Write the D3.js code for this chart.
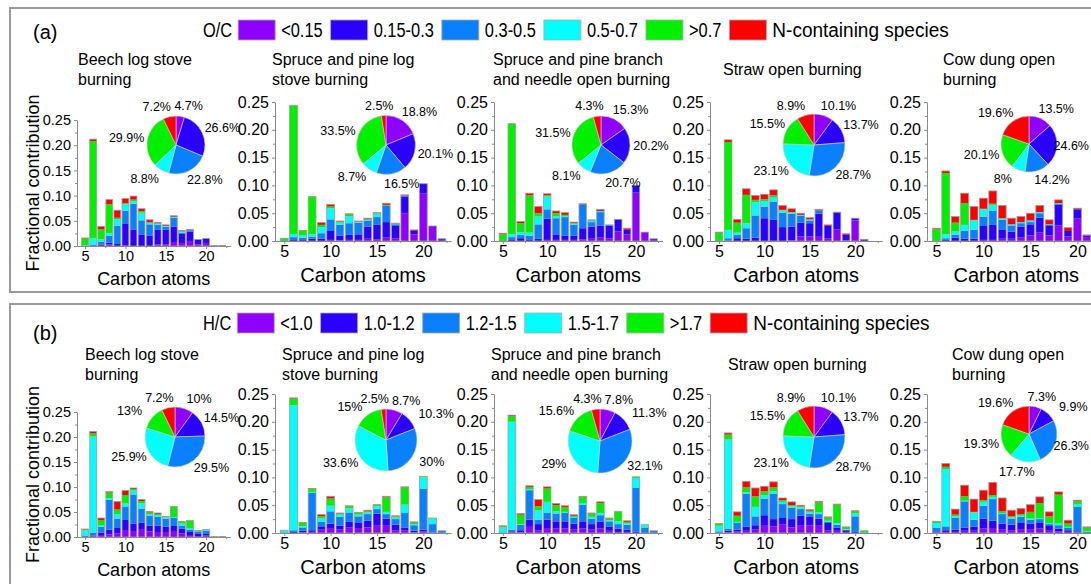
<!DOCTYPE html>
<html>
<head>
<meta charset="utf-8">
<script src="https://cdn.jsdelivr.net/npm/d3@7"></script>
<style>
  body { margin: 0; background: #fff; }
  text { font-family: "Liberation Sans", Arial, sans-serif; fill: #000; }
  .axis .domain, .axis line { stroke: #8a8a8a; }
</style>
</head>
<body>
<svg id="chart" width="1091" height="584"></svg>
<script>
// ---- data ----
const carbons = d3.range(5, 23);
const ocCategories = ["<0.15", "0.15-0.3", "0.3-0.5", "0.5-0.7", ">0.7", "N-containing species"];
const hcCategories = ["<1.0", "1.0-1.2", "1.2-1.5", "1.5-1.7", ">1.7", "N-containing species"];
const colors = ["#9000ff", "#2b00ff", "#0a80ff", "#00ffff", "#00f000", "#ff0000"];
const sources = [
  ["Beech log stove", "burning"],
  ["Spruce and pine log", "stove burning"],
  ["Spruce and pine branch", "and needle open burning"],
  ["Straw open burning"],
  ["Cow dung open", "burning"]
];
const yTicks = [0, 0.05, 0.10, 0.15, 0.20, 0.25];
const xTicks = [5, 10, 15, 20];

// rows = carbon 5..22, columns = purple, blue, mid blue, cyan, green, N-containing
const ocBeech = [
  [0, 0, 0.001, 0.001, 0.013, 0.001], [0, 0, 0.003, 0.012, 0.193, 0.004],
  [0, 0.003, 0.005, 0.005, 0.02, 0.006], [0.003, 0.004, 0.013, 0.005, 0.058, 0.009],
  [0, 0.004, 0.036, 0.013, 0.003, 0.015], [0.002, 0.043, 0.025, 0.013, 0.002, 0.009],
  [0, 0.033, 0.051, 0.005, 0.003, 0.007], [0, 0.023, 0.028, 0.015, 0.003, 0.005],
  [0, 0.02, 0.023, 0.003, 0.001, 0.005], [0.003, 0.029, 0.01, 0.002, 0.001, 0.002],
  [0.003, 0.029, 0.006, 0.002, 0, 0.002], [0.008, 0.03, 0.018, 0.002, 0, 0.002],
  [0.006, 0.018, 0.002, 0.003, 0, 0.002], [0.01, 0.018, 0.003, 0, 0, 0.002],
  [0.003, 0.01, 0, 0, 0, 0], [0.006, 0.009, 0, 0, 0, 0],
  [0.001, 0, 0, 0, 0, 0], [0.001, 0, 0, 0, 0, 0]
];
const ocSpruceLog = [
  [0, 0, 0, 0, 0.005, 0], [0, 0.003, 0.004, 0.005, 0.232, 0],
  [0, 0.003, 0.003, 0.004, 0.008, 0.001], [0, 0.004, 0.004, 0.004, 0.068, 0],
  [0, 0.004, 0.01, 0.011, 0.004, 0.004], [0.002, 0.016, 0.021, 0.02, 0.003, 0.004],
  [0.001, 0.009, 0.019, 0.004, 0.002, 0.001], [0.002, 0.009, 0.021, 0.013, 0.003, 0.001],
  [0.002, 0.01, 0.021, 0.002, 0, 0.001], [0.004, 0.022, 0.01, 0.002, 0.001, 0.002],
  [0.003, 0.026, 0.014, 0.006, 0.001, 0.001], [0.006, 0.028, 0.03, 0, 0.001, 0.003],
  [0.005, 0.022, 0.003, 0, 0.001, 0.001], [0.05, 0.03, 0.002, 0, 0, 0.001],
  [0.012, 0.006, 0, 0, 0, 0.002], [0.086, 0.017, 0, 0, 0, 0],
  [0.027, 0, 0, 0, 0, 0], [0.002, 0.002, 0, 0, 0, 0]
];
const ocBranch = [
  [0, 0, 0, 0, 0.012, 0.002], [0, 0.003, 0.004, 0.005, 0.199, 0],
  [0, 0.005, 0.006, 0.005, 0.016, 0.003], [0, 0.003, 0.006, 0.006, 0.067, 0.004],
  [0, 0.004, 0.026, 0.014, 0.006, 0.012], [0.002, 0.038, 0.017, 0.023, 0.002, 0.003],
  [0.002, 0.01, 0.029, 0.003, 0.006, 0.004], [0.002, 0.008, 0.033, 0.002, 0.002, 0.004],
  [0.002, 0.008, 0.019, 0.002, 0.001, 0.002], [0.003, 0.02, 0.043, 0, 0, 0.001],
  [0.004, 0.022, 0.008, 0.003, 0, 0.001], [0.006, 0.022, 0.024, 0.002, 0, 0.003],
  [0.005, 0.023, 0.001, 0, 0, 0], [0.017, 0.022, 0, 0, 0, 0],
  [0.012, 0.008, 0, 0, 0, 0.003], [0.087, 0.013, 0, 0, 0, 0],
  [0.016, 0, 0, 0, 0, 0], [0.002, 0.002, 0, 0, 0, 0]
];
const ocStraw = [
  [0, 0, 0, 0, 0.015, 0.001], [0, 0.001, 0.004, 0.015, 0.158, 0.004],
  [0, 0.005, 0.006, 0.004, 0.018, 0.006], [0, 0.004, 0.019, 0.009, 0.051, 0.011],
  [0, 0.006, 0.04, 0.024, 0.004, 0.008], [0, 0.041, 0.021, 0.01, 0.003, 0.009],
  [0, 0.038, 0.033, 0.007, 0.004, 0.01], [0, 0.025, 0.026, 0.004, 0.001, 0.008],
  [0.001, 0.025, 0.023, 0.002, 0.001, 0.006], [0.008, 0.025, 0.012, 0.002, 0, 0.003],
  [0.008, 0.024, 0.005, 0.002, 0, 0.003], [0.009, 0.04, 0.006, 0, 0, 0.002],
  [0.005, 0.022, 0, 0, 0, 0.002], [0.021, 0.03, 0, 0, 0, 0.001],
  [0.001, 0.01, 0, 0, 0, 0.002], [0.037, 0.004, 0, 0, 0, 0],
  [0, 0.003, 0, 0, 0, 0], [0, 0, 0, 0, 0, 0]
];
const ocCowDung = [
  [0, 0, 0, 0, 0.021, 0.002], [0, 0.002, 0.003, 0.007, 0.11, 0.004],
  [0, 0.006, 0.005, 0.006, 0.016, 0.011], [0, 0.004, 0.014, 0.011, 0.039, 0.018],
  [0, 0.004, 0.016, 0.017, 0.001, 0.024], [0.002, 0.025, 0.017, 0.013, 0.001, 0.019],
  [0.002, 0.027, 0.025, 0.011, 0.002, 0.023], [0.004, 0.017, 0.017, 0.002, 0.001, 0.023],
  [0.004, 0.013, 0.011, 0.002, 0, 0.011], [0.006, 0.02, 0.006, 0.002, 0, 0.01],
  [0.01, 0.02, 0.004, 0.003, 0, 0.013], [0.015, 0.027, 0.008, 0.002, 0, 0.012],
  [0.01, 0.017, 0.002, 0.001, 0, 0.008], [0.028, 0.038, 0, 0.002, 0, 0.006],
  [0.008, 0.01, 0, 0, 0, 0.006], [0.041, 0.016, 0, 0, 0, 0.002],
  [0.007, 0.003, 0, 0, 0, 0.001], [0.003, 0.002, 0, 0, 0, 0]
];
const hcBeech = [
  [0, 0, 0.003, 0.01, 0.002, 0.001], [0.001, 0.002, 0.006, 0.192, 0.006, 0.004],
  [0.004, 0.005, 0.011, 0.003, 0.011, 0.004], [0.005, 0.01, 0.06, 0.003, 0.011, 0.002],
  [0.007, 0.011, 0.019, 0.009, 0.009, 0.016], [0.014, 0.02, 0.026, 0.007, 0.017, 0.009],
  [0.012, 0.015, 0.058, 0.008, 0.003, 0.002], [0.016, 0.013, 0.028, 0.01, 0.005, 0.003],
  [0.011, 0.012, 0.02, 0.003, 0.003, 0.002], [0.01, 0.013, 0.018, 0.003, 0.002, 0.002],
  [0.01, 0.011, 0.016, 0.002, 0.001, 0.001], [0.012, 0.01, 0.016, 0.002, 0.02, 0.001],
  [0.007, 0.01, 0.006, 0.004, 0.003, 0.001], [0.004, 0.006, 0.005, 0.003, 0.015, 0],
  [0.002, 0.004, 0.005, 0, 0.002, 0], [0.003, 0.003, 0.007, 0.002, 0, 0],
  [0.001, 0, 0, 0, 0, 0], [0.001, 0, 0, 0, 0, 0]
];
const hcSpruceLog = [
  [0, 0, 0.001, 0.004, 0, 0], [0, 0.002, 0.003, 0.225, 0.012, 0.001],
  [0.001, 0.003, 0.006, 0.002, 0.006, 0.001], [0.002, 0.003, 0.067, 0.002, 0.005, 0.001],
  [0.006, 0.006, 0.008, 0.006, 0.004, 0.003], [0.009, 0.008, 0.022, 0.01, 0.013, 0.004],
  [0.006, 0.007, 0.016, 0.004, 0.002, 0.001], [0.01, 0.01, 0.017, 0.007, 0.004, 0.001],
  [0.009, 0.009, 0.012, 0.003, 0.003, 0.001], [0.01, 0.012, 0.012, 0.003, 0.002, 0.002],
  [0.013, 0.022, 0.008, 0.005, 0.002, 0.001], [0.013, 0.013, 0.008, 0.004, 0.026, 0.002],
  [0.005, 0.01, 0.01, 0.003, 0.002, 0.001], [0.005, 0.005, 0.026, 0.015, 0.031, 0.001],
  [0.001, 0.003, 0.01, 0.002, 0.003, 0.001], [0.003, 0.003, 0.074, 0.02, 0.002, 0],
  [0, 0.001, 0.015, 0.01, 0.001, 0], [0, 0.001, 0.003, 0, 0, 0]
];
const hcBranch = [
  [0, 0, 0.001, 0.009, 0.002, 0.001], [0.001, 0.002, 0.003, 0.194, 0.01, 0.002],
  [0.001, 0.004, 0.01, 0.001, 0.017, 0.002], [0.011, 0.013, 0.053, 0.002, 0.004, 0.002],
  [0.005, 0.011, 0.008, 0.017, 0.007, 0.012], [0.009, 0.015, 0.012, 0.02, 0.024, 0.003],
  [0.008, 0.013, 0.014, 0.004, 0.011, 0.003], [0.008, 0.013, 0.015, 0.002, 0.008, 0.003],
  [0.007, 0.01, 0.01, 0.002, 0.002, 0.002], [0.008, 0.013, 0.03, 0.003, 0.011, 0.001],
  [0.006, 0.01, 0.01, 0.003, 0.006, 0.001], [0.008, 0.012, 0.012, 0.004, 0.018, 0.002],
  [0.004, 0.007, 0.01, 0.002, 0.003, 0.001], [0.002, 0.006, 0.008, 0.005, 0.018, 0],
  [0.002, 0.004, 0.009, 0.002, 0.003, 0.002], [0, 0.002, 0.079, 0.018, 0.002, 0],
  [0, 0, 0.01, 0.004, 0.001, 0], [0, 0.001, 0.003, 0, 0, 0]
];
const hcStraw = [
  [0, 0.001, 0.002, 0.01, 0.003, 0.001], [0.001, 0.003, 0.004, 0.16, 0.009, 0.003],
  [0.003, 0.003, 0.012, 0.002, 0.011, 0.007], [0.004, 0.007, 0.06, 0.002, 0.009, 0.011],
  [0.006, 0.008, 0.016, 0.017, 0.019, 0.015], [0.013, 0.019, 0.03, 0.006, 0.007, 0.009],
  [0.012, 0.013, 0.046, 0.004, 0.007, 0.01], [0.015, 0.012, 0.025, 0.004, 0.003, 0.004],
  [0.01, 0.015, 0.02, 0.003, 0.002, 0.006], [0.013, 0.018, 0.012, 0.003, 0.002, 0.002],
  [0.014, 0.016, 0.005, 0.003, 0.002, 0.002], [0.013, 0.013, 0.008, 0.003, 0.018, 0.002],
  [0.005, 0.013, 0.002, 0.002, 0.006, 0.001], [0.004, 0.006, 0.005, 0.003, 0.033, 0.001],
  [0.002, 0.003, 0.001, 0.001, 0.004, 0], [0, 0.002, 0.028, 0.005, 0.004, 0.001],
  [0, 0, 0.001, 0, 0.003, 0], [0, 0, 0, 0, 0, 0]
];
const hcCowDung = [
  [0.001, 0.002, 0.006, 0.009, 0.002, 0.001], [0.002, 0.003, 0.007, 0.103, 0.004, 0.006],
  [0.002, 0.004, 0.021, 0.003, 0.003, 0.01], [0.004, 0.006, 0.047, 0.001, 0.008, 0.02],
  [0.004, 0.007, 0.013, 0.013, 0.001, 0.023], [0.008, 0.018, 0.023, 0.007, 0.003, 0.018],
  [0.009, 0.013, 0.039, 0.004, 0.003, 0.023], [0.007, 0.01, 0.017, 0.002, 0.003, 0.024],
  [0.005, 0.01, 0.011, 0.002, 0.002, 0.011], [0.007, 0.011, 0.011, 0.002, 0.003, 0.01],
  [0.007, 0.01, 0.007, 0.002, 0.012, 0.013], [0.008, 0.01, 0.007, 0.002, 0.027, 0.011],
  [0.004, 0.01, 0.002, 0.002, 0.012, 0.008], [0.003, 0.005, 0.006, 0.003, 0.052, 0.005],
  [0.002, 0.003, 0.004, 0.002, 0.006, 0.006], [0.001, 0.002, 0.044, 0.005, 0.005, 0.002],
  [0, 0, 0.002, 0.001, 0.007, 0.001], [0, 0, 0.002, 0, 0.003, 0]
];

// pie shares (%) in the same category order
const ocPies = [
  [4.7, 26.6, 22.8, 8.8, 29.9, 7.2],
  [18.8, 20.1, 16.5, 8.7, 33.5, 2.5],
  [15.3, 20.2, 20.7, 8.1, 31.5, 4.3],
  [10.1, 13.7, 28.7, 23.1, 15.5, 8.9],
  [13.5, 24.6, 14.2, 8, 20.1, 19.6]
];
const hcPies = [
  [10, 14.5, 29.5, 25.9, 13, 7.2],
  [8.7, 10.3, 30, 33.6, 15, 2.5],
  [7.8, 11.3, 32.1, 29, 15.6, 4.3],
  [10.1, 13.7, 28.7, 23.1, 15.5, 8.9],
  [7.3, 9.9, 26.3, 17.7, 19.3, 19.6]
];

// ---- layout ----
const svg = d3.select("#chart");
const colLeft = [77, 275, 494, 710, 927];
const colStep = [8.07, 9.27, 8.87, 9.07, 9.4];   // px per carbon atom
const rowsLayout = [
  {
    data: [ocBeech, ocSpruceLog, ocBranch, ocStraw, ocCowDung], pies: ocPies,
    y0: [246, 241, 241, 241, 241], y1: [120, 102, 102, 102, 102],
    titleX: [78, 272, 493, 723, 943], titleY: 65,
    pieC: [[176, 145, 29], [386, 145, 29.5], [601, 145, 29], [814, 145, 31], [1029, 144, 28]],
    label: "(a)", legendTitle: "O/C", cats: ocCategories, legendY: 20, tagY: 39,
    frameY: 8, frameH: 284
  },
  {
    data: [hcBeech, hcSpruceLog, hcBranch, hcStraw, hcCowDung], pies: hcPies,
    y0: [537, 533, 533, 533, 533], y1: [412, 394, 394, 394, 394],
    titleX: [85, 282, 491, 728, 952], titleY: 360,
    pieC: [[175, 437, 30], [386, 440, 31], [600, 441, 32], [814, 437, 31], [1029, 434, 28]],
    label: "(b)", legendTitle: "H/C", cats: hcCategories, legendY: 313, tagY: 340,
    frameY: 304, frameH: 320
  }
];

const stack = d3.stack().keys(d3.range(6));

rowsLayout.forEach(function(row) {
  svg.append("rect")
      .attr("x", 10).attr("y", row.frameY)
      .attr("width", 1100).attr("height", row.frameH)
      .attr("fill", "none").attr("stroke", "#9a9a9a").attr("stroke-width", 2);

  // legend
  var lg = svg.append("g");
  lg.append("text").attr("x", 33).attr("y", row.tagY)
      .style("font-size", "20px").text(row.label);
  var cx = 203;
  var t = lg.append("text").attr("x", cx).attr("y", row.legendY + 17)
      .style("font-size", "20px").text(row.legendTitle);
  cx += condense(t, 0.82) + 6;
  row.cats.forEach(function(c, i) {
    lg.append("rect").attr("x", cx).attr("y", row.legendY)
        .attr("width", 37).attr("height", 20)
        .attr("fill", colors[i]).attr("stroke", "#aaa").attr("stroke-width", 0.8);
    cx += 37 + 6;
    var tt = lg.append("text").attr("x", cx).attr("y", row.legendY + 17)
        .style("font-size", "20px").text(c);
    cx += condense(tt, i === 5 ? 0.95 : 0.82) + 8;
  });

  row.data.forEach(function(rows, ci) {
    var small = ci === 0;
    var x = d3.scaleLinear().domain([4, 23])
        .range([colLeft[ci], colLeft[ci] + 19 * colStep[ci]]);
    var y = d3.scaleLinear().domain([0, 0.25]).range([row.y0[ci], row.y1[ci]]);
    var g = svg.append("g");
    var tickFont = small ? "14.5px" : "16px";
    var titleFont = small ? "18px" : "20px";

    // bars
    var series = stack(rows);
    var bw = colStep[ci] * 0.84;
    series.forEach(function(s, k) {
      g.append("g").selectAll("rect").data(s).join("rect")
          .attr("x", function(d, i) { return x(carbons[i]) - bw / 2; })
          .attr("y", function(d) { return y(d[1]); })
          .attr("width", bw)
          .attr("height", function(d) { return Math.max(0, y(d[0]) - y(d[1])); })
          .attr("fill", colors[k]);
    });
    g.append("g").selectAll("rect").data(rows).join("rect")
        .attr("x", function(d, i) { return x(carbons[i]) - bw / 2; })
        .attr("y", function(d) { return y(d3.sum(d)); })
        .attr("width", bw)
        .attr("height", function(d) { return y(0) - y(d3.sum(d)); })
        .attr("fill", "none").attr("stroke", "#9c9c9c").attr("stroke-width", 0.8);

    // axes
    var ya = g.append("g").attr("class", "axis")
        .attr("transform", "translate(" + colLeft[ci] + ",0)")
        .call(d3.axisLeft(y).tickValues(yTicks).tickFormat(d3.format(".2f")).tickSize(3).tickSizeOuter(0));
    ya.selectAll("text").style("font-size", tickFont).style("font-family", "Liberation Sans, Arial, sans-serif");
    g.append("g").attr("class", "axis")
        .attr("transform", "translate(" + colLeft[ci] + ",0)")
        .call(d3.axisLeft(y).tickValues(d3.range(0.025, 0.25, 0.05)).tickFormat("").tickSize(2).tickSizeOuter(0))
        .select(".domain").remove();

    var xa = g.append("g").attr("class", "axis")
        .attr("transform", "translate(0," + row.y0[ci] + ")")
        .call(d3.axisBottom(x).tickValues(xTicks).tickSize(3).tickSizeOuter(0).tickPadding(2));
    xa.selectAll("text").style("font-size", tickFont).style("font-family", "Liberation Sans, Arial, sans-serif");
    g.append("g").attr("class", "axis")
        .attr("transform", "translate(0," + row.y0[ci] + ")")
        .call(d3.axisBottom(x).tickValues([7.5, 12.5, 17.5, 22.5]).tickFormat("").tickSize(2))
        .select(".domain").remove();

    g.append("text")
        .attr("x", (x.range()[0] + x.range()[1]) / 2)
        .attr("y", row.y0[ci] + (small ? 39 : 41))
        .attr("text-anchor", "middle")
        .style("font-size", titleFont)
        .text("Carbon atoms");

    if (small) {
      g.append("text")
          .attr("transform", "translate(39," + (row.y0[ci] + row.y1[ci]) / 2 + ") rotate(-90)")
          .attr("text-anchor", "middle")
          .style("font-size", "18px")
          .text("Fractional contribution");
    }

    // source title
    var lines = sources[ci];
    lines.forEach(function(l, li) {
      g.append("text")
          .attr("x", row.titleX[ci])
          .attr("y", row.titleY + (lines.length === 1 ? 10 : li * 20))
          .style("font-size", "16px")
          .text(l);
    });

    // pie
    var pc = row.pieC[ci];
    var arcs = d3.pie().sort(null).value(function(d) { return d; })(row.pies[ci]);
    var arc = d3.arc().innerRadius(0).outerRadius(pc[2]);
    var pg = g.append("g").attr("transform", "translate(" + pc[0] + "," + pc[1] + ")");
    pg.selectAll("path").data(arcs).join("path")
        .attr("d", arc)
        .attr("fill", function(d, i) { return colors[i]; })
        .attr("stroke", "#d0d0d0").attr("stroke-width", 0.6);
    var labels = pg.selectAll("text").data(arcs).join("text")
        .attr("x", function(d) {
          var a = (d.startAngle + d.endAngle) / 2, s = Math.sin(a);
          return (pc[2] + 9) * s + 12 * Math.sign(s) * Math.min(1, Math.abs(s) * 4);
        })
        .attr("y", function(d) {
          var a = (d.startAngle + d.endAngle) / 2;
          return -(pc[2] + 10) * Math.cos(a) + 4;
        })
        .attr("text-anchor", "middle")
        .style("font-size", "12.5px")
        .text(function(d) { return d.data + "%"; });
    spreadLabels(labels.nodes(), pc[0]);
  });
});

function condense(sel, k) {
  var w = sel.node().getComputedTextLength() * k;
  sel.attr("textLength", w).attr("lengthAdjust", "spacingAndGlyphs");
  return w;
}

// nudge neighbouring pie labels apart and keep them inside the picture
function spreadLabels(nodes, cx) {
  for (var i = 0; i < nodes.length; i++) {
    var a = nodes[i], b = nodes[(i + 1) % nodes.length];
    var ba = a.getBBox(), bb = b.getBBox();
    var vOverlap = ba.y < bb.y + bb.height && bb.y < ba.y + ba.height;
    if (!vOverlap) continue;
    var left = ba.x < bb.x ? a : b, right = left === a ? b : a;
    var bl = left.getBBox(), br = right.getBBox();
    var overlap = bl.x + bl.width + 3 - br.x;
    if (overlap > 0) {
      left.setAttribute("x", +left.getAttribute("x") - overlap / 2);
      right.setAttribute("x", +right.getAttribute("x") + overlap / 2);
    }
  }
  nodes.forEach(function(n) {
    var bx = n.getBBox();
    var over = cx + bx.x + bx.width - 1089;
    if (over > 0) n.setAttribute("x", +n.getAttribute("x") - over);
  });
}
</script>
</body>
</html>
